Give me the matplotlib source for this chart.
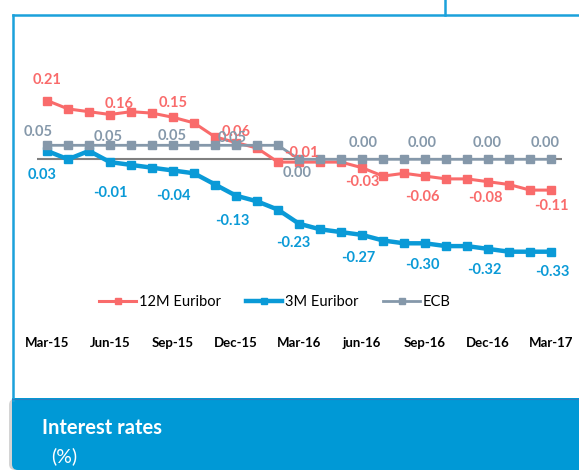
import matplotlib
matplotlib.use("Agg")
import matplotlib.pyplot as plt
from matplotlib.lines import Line2D
from matplotlib.patches import Rectangle, FancyBboxPatch
from matplotlib.transforms import IdentityTransform

# monthly data, Mar-15 .. Mar-17
months = list(range(25))
tick_pos = [0, 3, 6, 9, 12, 15, 18, 21, 24]
tick_labels = ["Mar-15", "Jun-15", "Sep-15", "Dec-15", "Mar-16",
               "jun-16", "Sep-16", "Dec-16", "Mar-17"]

euribor_12m = [0.21, 0.18, 0.17, 0.16, 0.17, 0.165, 0.15, 0.13, 0.08, 0.06,
               0.04, -0.01, -0.01, -0.01, -0.01, -0.03, -0.06, -0.05, -0.06,
               -0.07, -0.07, -0.08, -0.09, -0.11, -0.11]
euribor_3m = [0.03, 0.00, 0.03, -0.01, -0.02, -0.03, -0.04, -0.05, -0.09,
              -0.13, -0.15, -0.18, -0.23, -0.25, -0.26, -0.27, -0.29, -0.30,
              -0.30, -0.31, -0.31, -0.32, -0.33, -0.33, -0.33]
ecb = [0.05] * 12 + [0.00] * 13

# data labels: (month index, text, offset in pixels)
labels_12m = [(0, "0.21", (0, 20)), (3, "0.16", (9, 11)), (6, "0.15", (0, 14)),
              (9, "0.06", (0, 11)), (12, "-0.01", (2, 9)), (15, "-0.03", (0, -14)),
              (18, "-0.06", (-3, -21)), (21, "-0.08", (-3, -16)), (24, "-0.11", (0, -16))]
labels_3m = [(0, "0.03", (-5, -24)), (3, "-0.01", (0, -31)), (6, "-0.04", (0, -25)),
             (9, "-0.13", (-4, -25)), (12, "-0.23", (-6, -19)), (15, "-0.27", (-4, -23)),
             (18, "-0.30", (-3, -22)), (21, "-0.32", (-4, -21)), (24, "-0.33", (1, -20))]
labels_ecb = [(0, "0.05", (-9, 13)), (3, "0.05", (-2, 8)), (6, "0.05", (-1, 9)),
              (9, "0.05", (-4, 7)), (12, "0.00", (-2, -14)), (15, "0.00", (1, 16)),
              (18, "0.00", (-3, 16)), (21, "0.00", (-1, 16)), (24, "0.00", (-6, 16))]

C12 = "#F96B6B"
C3 = "#0A9AD7"
CECB = "#8598AA"
FRAME = "#1BA1DB"
BANNER = "#0099D6"

W, H = 579, 471


def fx(px):
    return px / W


def fy(py):
    return 1 - py / H


fig = plt.figure(figsize=(W / 100, H / 100), dpi=100)
fig.patch.set_facecolor("white")

# frame lines
fig.add_artist(Line2D([fx(13), fx(W + 5)], [fy(14.5), fy(14.5)], color=FRAME, lw=1.8))
fig.add_artist(Line2D([fx(13), fx(13)], [fy(14.5), fy(400)], color=FRAME, lw=1.8))
fig.add_artist(Line2D([fx(445), fx(445)], [fy(0), fy(14.5)], color=FRAME, lw=1.8))

# bottom banner
fig.add_artist(FancyBboxPatch((9, 1), 620, 71, boxstyle="round,pad=0,rounding_size=6",
                              transform=IdentityTransform(), fc="#D4D4D4", ec="none"))
fig.add_artist(FancyBboxPatch((12, 1), 620, 72, boxstyle="round,pad=0,rounding_size=6",
                              transform=IdentityTransform(), fc=BANNER, ec="none"))
fig.add_artist(Rectangle((12, 40), 620, 33, transform=IdentityTransform(),
                         fc=BANNER, ec="none"))
fig.add_artist(Line2D([fx(12), fx(W + 5)], [fy(398.5), fy(398.5)], color="#2A7FC0", lw=0.8))
fig.text(fx(42), fy(428), "Interest rates", color="white", fontsize=14.5,
         fontweight="bold", family="Lato", va="center", ha="left")
fig.text(fx(51), fy(456), "(%)", color="white", fontsize=14,
         family="Lato", va="center", ha="left")

# chart area
ax = fig.add_axes([fx(36.5), fy(332.9), (561.5 - 36.5) / W, (332.9 - 47.3) / H])
ax.set_xlim(-0.5, 24.5)
ax.set_ylim(-0.62, 0.40)
for s in ax.spines.values():
    s.set_visible(False)
ax.set_yticks([])
ax.set_xticks(tick_pos)
ax.set_xticklabels(tick_labels, fontsize=9.5, fontweight="bold", family="Lato")
ax.tick_params(axis="x", length=0, pad=3)
ax.patch.set_alpha(0)

ax.axhline(0, color="#808080", lw=1.5, zorder=1)

l12, = ax.plot(months, euribor_12m, color=C12, lw=2.2, marker="s", ms=5.5, zorder=3)
l3, = ax.plot(months, euribor_3m, color=C3, lw=3.2, marker="s", ms=5.5, zorder=4)
le, = ax.plot(months, ecb, color=CECB, lw=2.0, marker="s", ms=5.5, zorder=5)

for series, labs, col in [(euribor_12m, labels_12m, C12), (euribor_3m, labels_3m, C3),
                          (ecb, labels_ecb, CECB)]:
    for i, txt, off in labs:
        ax.annotate(txt, (i, series[i]), xytext=off, textcoords="offset pixels",
                    ha="center", va="center", color=col, fontsize=10.5,
                    fontweight="bold", family="Lato", zorder=6)

leg_handles = [
    Line2D([], [], color=C12, lw=2.2, marker="s", ms=4.5),
    Line2D([], [], color=C3, lw=3.2, marker="s", ms=4.5),
    Line2D([], [], color=CECB, lw=2.0, marker="s", ms=4.5),
]
fig.legend(leg_handles, ["12M Euribor", "3M Euribor", "ECB"], loc="center",
           bbox_to_anchor=(fx(275), fy(302)), ncol=3, frameon=False,
           prop={"family": "Lato", "size": 10.5}, handlelength=2.5,
           handletextpad=0.2, columnspacing=1.7)

fig.savefig("out.png", dpi=100, facecolor="white")
